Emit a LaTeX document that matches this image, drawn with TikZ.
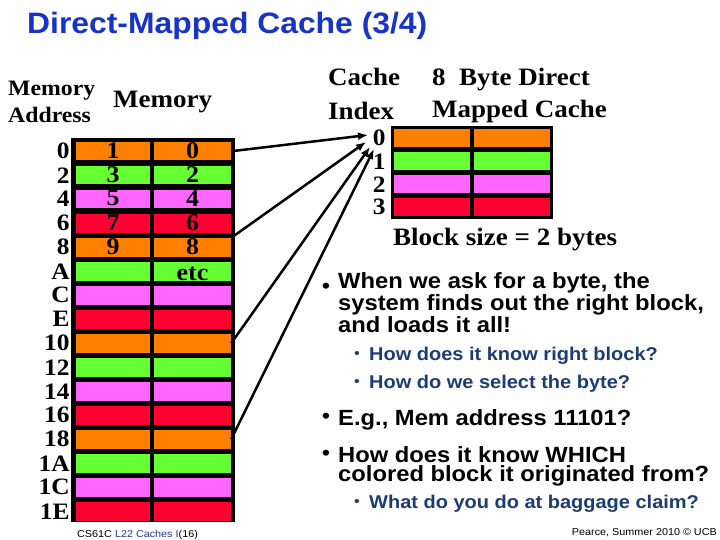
\documentclass[tikz,border=0pt]{standalone}
\usepackage{fontspec}
\setmainfont{Liberation Serif}[FakeStretch=1.08]
\setsansfont{Liberation Sans}[FakeStretch=1.08]
\usepackage{tikz}
\usetikzlibrary{arrows.meta,positioning,calc}
\tikzset{>={Latex[length=10pt,width=8pt]}}

\definecolor{blk0}{RGB}{255,128,0}
\definecolor{blk1}{RGB}{102,255,51}
\definecolor{blk2}{RGB}{255,102,255}
\definecolor{blk3}{RGB}{255,0,51}
\definecolor{titleblue}{RGB}{22,52,200}
\definecolor{subblue}{RGB}{28,60,115}
\definecolor{footblue}{RGB}{30,60,150}

\tikzset{
  cell/.style={fill=blk#1, inner sep=0pt, minimum height=18.5pt},
  addr/.style={font=\bfseries\fontsize{23.5}{24}\selectfont, inner sep=0pt},
  datum/.style={font=\bfseries\fontsize{24}{24}\selectfont, inner sep=0pt},
  hdr/.style={font=\bfseries\fontsize{25}{26}\selectfont, inner sep=0pt, anchor=base west},
  mainpt/.style={font=\sffamily\bfseries\fontsize{22}{19}\selectfont, inner sep=0pt, anchor=base west, align=left},
  subpt/.style={font=\sffamily\bfseries\fontsize{18.5}{20}\selectfont, text=subblue, inner sep=0pt, anchor=base west},
  mainbul/.style={font=\sffamily\fontsize{22}{22}\selectfont, inner sep=0pt, anchor=base},
  subbul/.style={font=\sffamily\fontsize{15}{15}\selectfont, text=subblue, inner sep=0pt, anchor=base},
  foot/.style={font=\sffamily\fontsize{10}{10}\selectfont, inner sep=0pt}
}

\begin{document}
\begin{tikzpicture}[x=1pt,y=-1pt]
  \fill[white] (0,0) rectangle (720,540);
  \useasboundingbox (0,0) rectangle (720,540);

  \node[font=\sffamily\bfseries\fontsize{29.5}{30}\selectfont, text=titleblue, inner sep=0pt, anchor=base west] (title) at (27,34) {Direct-Mapped Cache (3/4)};

  % memory side (multi-line nodes sit on their last baseline)
  \node[font=\bfseries\fontsize{22}{27}\selectfont, inner sep=0pt, anchor=base west, align=left] (memaddr) at (8,123) {Memory\\Address};
  \node[font=\bfseries\fontsize{25}{26}\selectfont, inner sep=0pt, anchor=base west] (memhdr) at (113,108) {Memory};

  \fill[black] (71,138) rectangle (235,522);
  \foreach \i in {0,...,15}
  {
  \pgfmathtruncatemacro\k{mod(\i,4)}
  \node[cell=\k, minimum width=74pt] (ml\i) at (113,{151.25+24*\i}) {};
  \node[cell=\k, minimum width=77pt] (mr\i) at (192.5,{151.25+24*\i}) {};
  }

  \foreach \i/\a in {0/0,1/2,2/4,3/6,4/8,5/A,6/C,7/E,8/10,9/12,10/14,11/16,12/18,13/1A,14/1C,15/1E}
    \node[addr, left=6pt of ml\i] (ma\i) {\a};

  \foreach \i/\a/\b in {0/1/0,1/3/2,2/5/4,3/7/6,4/9/8}
  {
  \node[datum] (da\i) at ([yshift=1pt]ml\i.center) {\a};
  \node[datum] (db\i) at ([yshift=1pt]mr\i.center) {\b};
  }
  \node[datum] (db5) at ([yshift=-3pt]mr5.center) {etc};

  % cache side
  \node[hdr] (cachehdr) at (328,86) {Cache};
  \node[hdr] (indexhdr) at (328,120) {Index};
  \node[hdr] (dmhdr) at (432,86) {8\ \ Byte Direct};
  \node[hdr] (dmhdr2) at (432,118) {Mapped Cache};

  \fill[black] (391,126) rectangle (553,219);
  \foreach \i in {0,...,3}
  {
  \node[cell=\i, minimum width=76pt] (cl\i) at (432,{138.25+23*\i}) {};
  \node[cell=\i, minimum width=76pt] (cr\i) at (512,{138.25+23*\i}) {};
  \node[addr, left=8pt of cl\i] (ci\i) {\i};
  }
  \node[hdr] (blksize) at (393,245) {Block size = 2 bytes};

  % mapping arrows
  \coordinate (t1) at (368,135);
  \coordinate (t2) at (366,142);
  \coordinate (t3) at (370,147);
  \coordinate (t4) at (374,149);
  \draw[->, line width=2.5pt] (mr0.east) -- (t1);
  \draw[->, line width=2.5pt] (mr4.north east) -- (t2);
  \draw[->, line width=2.5pt] (mr8.east) -- (t3);
  \draw[->, line width=2.5pt] (mr12.east) -- (t4);

  % bullets
  \node[mainbul] (mb1) at (326,293) {\textbullet};
  \node[mainpt] (p1) at (338,332) {When we ask for a byte, the\\system finds out the right block,\\and loads it all!};
  \node[subbul] (sb1) at (357,358) {\textbullet};
  \node[subpt] (s1) at (369,360) {How does it know right block?};
  \node[subbul] (sb2) at (357,386) {\textbullet};
  \node[subpt] (s2) at (369,388) {How do we select the byte?};
  \node[mainbul] (mb2) at (326,423) {\textbullet};
  \node[mainpt] (p2) at (338,425) {E.g., Mem address 11101?};
  \node[mainbul] (mb3) at (326,460) {\textbullet};
  \node[mainpt] (p3) at (338,481) {How does it know WHICH\\colored block it originated from?};
  \node[subbul] (sb3) at (357,506) {\textbullet};
  \node[subpt] (s3) at (369,508) {What do you do at baggage claim?};

  \node[foot, anchor=base west] (footl) at (77,537) {CS61C \textcolor{footblue}{L22 Caches I}(16)};
  \node[foot, anchor=base east] (footr) at (717,535) {Pearce, Summer 2010 © UCB};
\end{tikzpicture}
\end{document}
